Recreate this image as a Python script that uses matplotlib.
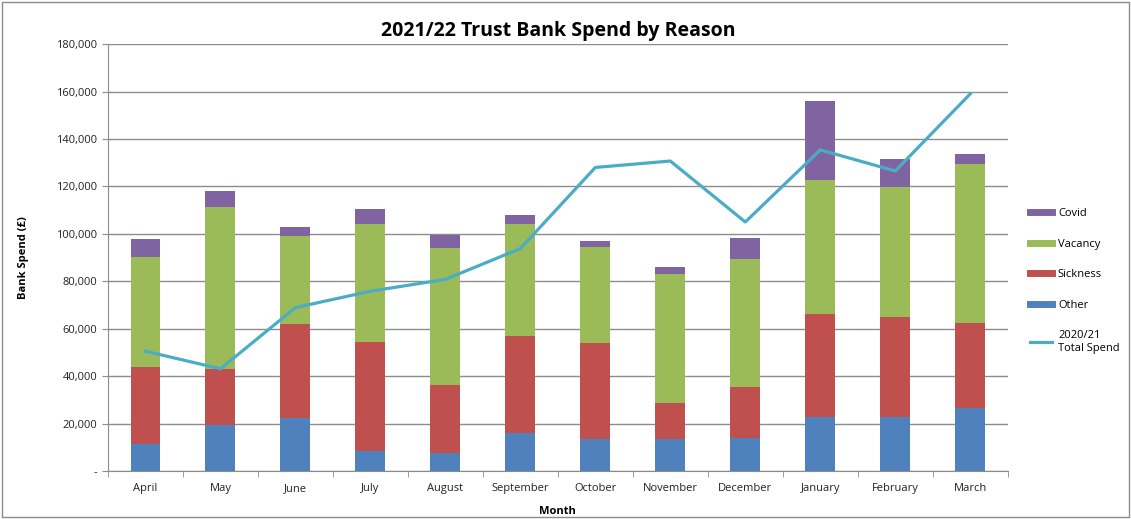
import numpy as np
import matplotlib
matplotlib.use('Agg')
import matplotlib.pyplot as plt
from matplotlib.lines import Line2D
from matplotlib.patches import Rectangle
from matplotlib.ticker import FuncFormatter, FixedLocator

plt.rcParams['font.family'] = ['Open Sans', 'DejaVu Sans']

# Data
months = ['April', 'May', 'June', 'July', 'August', 'September', 'October',
          'November', 'December', 'January', 'February', 'March']
other = [11400, 19500, 22300, 8600, 7700, 15900, 13600, 13300, 13900, 22700, 22700, 26400]
sickness = [32400, 23300, 39700, 45600, 28400, 41200, 40300, 15200, 21500, 43300, 42400, 35900]
vacancy = [46600, 68500, 37200, 49900, 58100, 46900, 40600, 54500, 54100, 56500, 54800, 67100]
covid = [7300, 6600, 3700, 6200, 5300, 3900, 2300, 3000, 8800, 33400, 11800, 4400]
total_2021 = [50500, 43100, 68900, 75800, 80800, 93800, 128000, 130700, 105000, 135400, 126500, 159000]

colors = {'Other': '#4F81BD', 'Sickness': '#C0504D', 'Vacancy': '#9BBB59', 'Covid': '#8064A2'}
line_color = '#4BACC6'

fig = plt.figure(figsize=(11.31, 5.19), dpi=100)
ax = fig.add_axes([0.0955, 0.0925, 0.7955, 0.8225])

x = np.arange(len(months))
bottom = np.zeros(len(months))
for name, vals in [('Other', other), ('Sickness', sickness), ('Vacancy', vacancy), ('Covid', covid)]:
    ax.bar(x, vals, width=0.4, bottom=bottom, color=colors[name], zorder=2)
    bottom += np.array(vals)

ax.plot(x, total_2021, color=line_color, lw=2.3, zorder=3)

ax.set_xlim(-0.5, len(months) - 0.5)
ax.set_ylim(0, 180000)
ax.set_yticks(np.arange(0, 180001, 20000))
ax.yaxis.set_major_formatter(FuncFormatter(lambda v, p: '-' if v == 0 else f'{int(v):,}'))
ax.grid(axis='y', color='#8c8c8c', lw=1, zorder=0)
ax.set_axisbelow(True)

ax.set_xticks(x)
ax.set_xticklabels(months)
ax.tick_params(axis='x', length=0, labelsize=8, pad=9, colors='#222222')
ax.xaxis.set_minor_locator(FixedLocator(np.arange(-0.5, len(months), 1)))
ax.tick_params(axis='x', which='minor', length=4, color='#8c8c8c', direction='out')
ax.tick_params(axis='y', length=4, labelsize=8, color='#8c8c8c', colors='#222222')
ax.tick_params(axis='y', color='#8c8c8c')

for s in ['top', 'right']:
    ax.spines[s].set_visible(False)
for s in ['left', 'bottom']:
    ax.spines[s].set_color('#8c8c8c')

ax.set_xlabel('Month', fontsize=8, fontweight='bold', labelpad=8)
ax.set_ylabel('Bank Spend (£)', fontsize=8, fontweight='bold', labelpad=20)
ax.set_title('2021/22 Trust Bank Spend by Reason', fontsize=14, fontweight='bold', pad=6)

handles = [Line2D([0], [0], color=colors['Covid'], lw=5),
           Line2D([0], [0], color=colors['Vacancy'], lw=5),
           Line2D([0], [0], color=colors['Sickness'], lw=5),
           Line2D([0], [0], color=colors['Other'], lw=5),
           Line2D([0], [0], color=line_color, lw=2.3)]
labels = ['Covid', 'Vacancy', 'Sickness', 'Other', '2020/21\nTotal Spend']
fig.legend(handles, labels, loc='upper left', bbox_to_anchor=(0.902, 0.618),
           frameon=False, fontsize=8, handlelength=2.0, handletextpad=0.5,
           labelspacing=1.75)

fig.patches.append(Rectangle((0.002, 0.004), 0.996, 0.992, transform=fig.transFigure,
                             fill=False, edgecolor='#8c8c8c', lw=1))

fig.savefig('out.png', dpi=100)
